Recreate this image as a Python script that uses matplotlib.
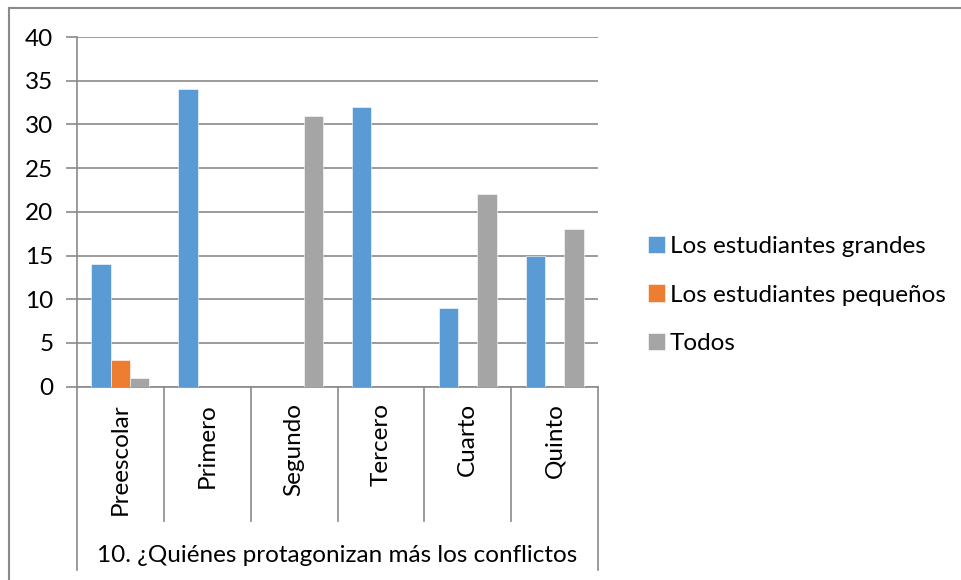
import matplotlib
matplotlib.use('Agg')
import matplotlib.pyplot as plt
import matplotlib.transforms as mtransforms
from matplotlib.lines import Line2D
import numpy as np

# Datos
grados = ['Preescolar', 'Primero', 'Segundo', 'Tercero', 'Cuarto', 'Quinto']
grandes = [14, 34, 0, 32, 9, 15]
pequenos = [3, 0, 0, 0, 0, 0]
todos = [1, 0, 31, 0, 22, 18]
series = ['Los estudiantes grandes', 'Los estudiantes pequeños', 'Todos']
titulo_eje = '10. ¿Quiénes protagonizan más los conflictos'

plt.rcParams['font.family'] = ['Lato', 'DejaVu Sans']
tam = 17.5
gris = '#8a8a8a'

W, H = 961, 580
fig = plt.figure(figsize=(W / 100, H / 100), dpi=100)
x0, x1, y0, y1 = 77, 598, 386.6, 37
ax = fig.add_axes([x0 / W, 1 - y0 / H, (x1 - x0) / W, (y0 - y1) / H])

x = np.arange(len(grados))
ancho = 1 / 4.5
colores = ['#5B9BD5', '#ED7D31', '#A5A5A5']
for k, (vals, col, nom) in enumerate(zip([grandes, pequenos, todos], colores, series)):
    ax.bar(x + (k - 1) * ancho, vals, ancho, color=col, label=nom,
           edgecolor='white', linewidth=0.4, zorder=3)

ax.set_xlim(-0.5, len(grados) - 0.5)
ax.set_ylim(0, 40)
ax.set_yticks(range(0, 41, 5))
ax.yaxis.grid(True, color=gris, linewidth=1.2, zorder=0)
ax.tick_params(axis='y', length=8, width=1.2, color=gris, pad=9, labelsize=tam)

for lado in ['top', 'right']:
    ax.spines[lado].set_visible(False)
ax.spines['left'].set_color(gris)
ax.spines['left'].set_linewidth(1.2)
ax.spines['bottom'].set_color(gris)
ax.spines['bottom'].set_linewidth(1.2)

# etiquetas de categoria verticales
ax.set_xticks(x)
ax.set_xticklabels(grados, rotation=90, fontsize=tam)
ax.tick_params(axis='x', length=0, pad=12)

# separadores de categorias
alto_ax = y0 - y1
trans = mtransforms.blended_transform_factory(ax.transData, ax.transAxes)
y_in = -(521 - y0) / alto_ax
y_out = -(570 - y0) / alto_ax
for b in np.arange(-0.5, len(grados), 1.0):
    fondo = y_out if b in (-0.5, len(grados) - 0.5) else y_in
    ax.plot([b, b], [0, fondo], color=gris, linewidth=1.2, transform=trans, clip_on=False)

ax.text(0.5, -(555 - y0) / alto_ax, titulo_eje, transform=ax.transAxes,
        ha='center', va='center', fontsize=tam)

fig.legend(loc='center left', bbox_to_anchor=(638 / W, 1 - 295 / H), frameon=False,
           fontsize=tam, handlelength=0.7, handleheight=0.7, handletextpad=0.2,
           labelspacing=1.15, borderaxespad=0)

# borde del area del grafico (solo visible arriba e izquierda)
fig.add_artist(Line2D([8.5 / W, 8.5 / W], [0, 1 - 7.5 / H], color=gris, linewidth=1.5))
fig.add_artist(Line2D([8.5 / W, 1], [1 - 7.5 / H, 1 - 7.5 / H], color=gris, linewidth=1.5))

fig.savefig('out.png', dpi=100)
